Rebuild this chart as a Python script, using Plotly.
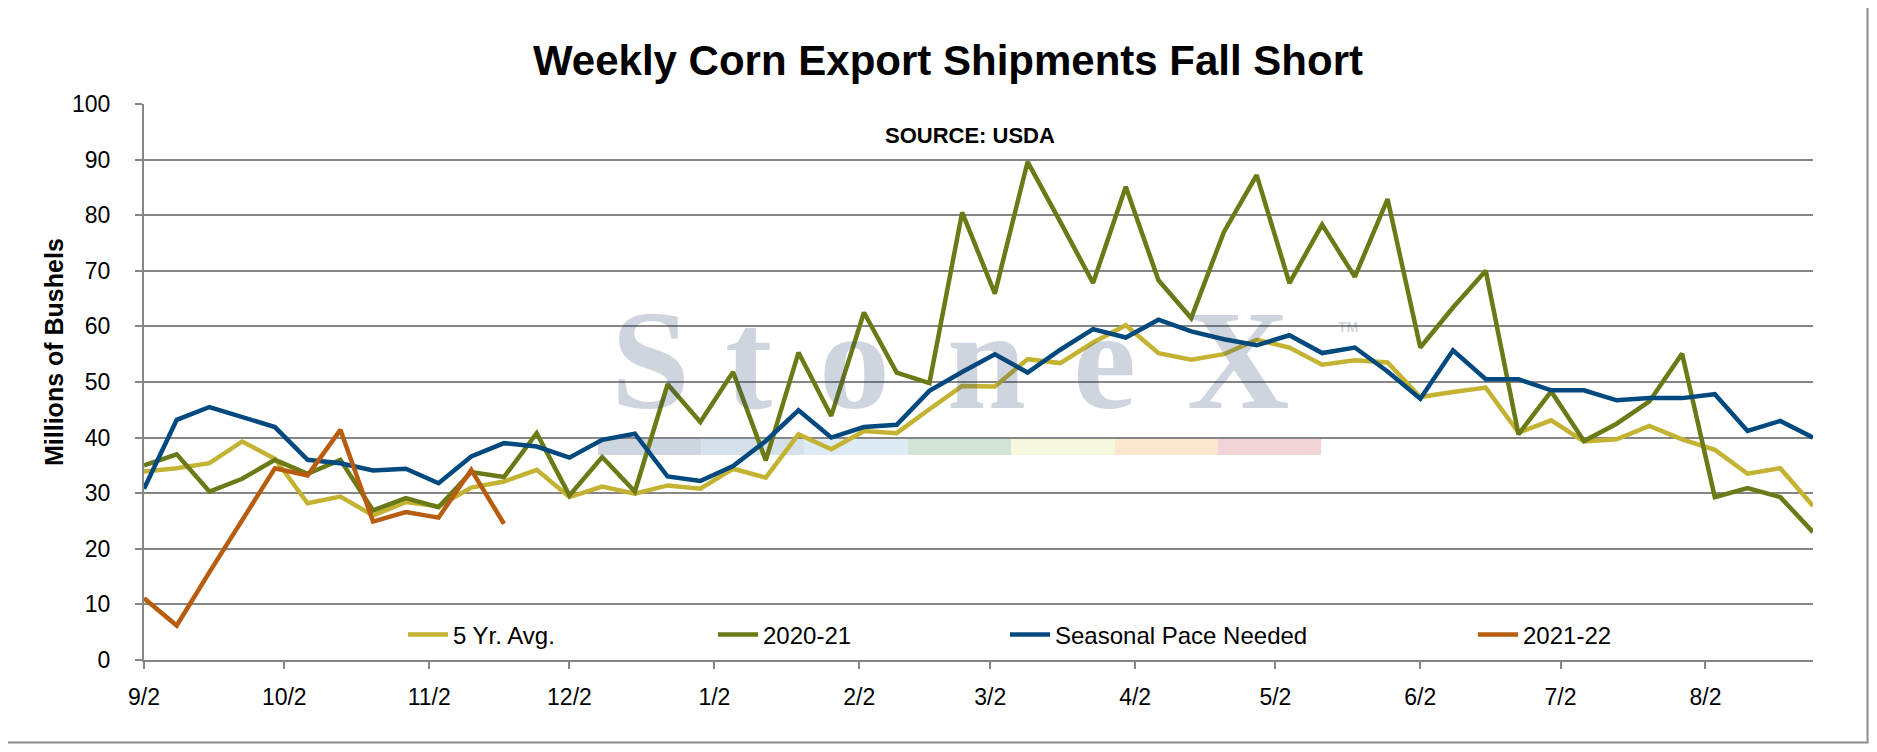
import pandas as pd
import plotly.graph_objects as go

# weekly corn export shipments, millions of bushels
weeks = pd.date_range("2020-09-02", periods=52, freq="7D")

avg_5yr = [33.9, 34.5, 35.4, 39.3, 36.2, 28.2, 29.4, 26.0, 28.4, 27.6,
           31.0, 32.1, 34.2, 29.3, 31.2, 29.9, 31.4, 30.8, 34.4, 32.8,
           40.6, 37.9, 41.2, 40.8, 45.1, 49.3, 49.2, 54.1, 53.4, 57.1,
           60.2, 55.2, 54.0, 55.0, 57.6, 56.2, 53.1, 53.9, 53.5, 47.3,
           48.2, 49.0, 40.9, 43.1, 39.3, 39.7, 42.1, 39.7, 37.8, 33.5,
           34.5, 27.7]
mkt_2020_21 = [35.0, 37.0, 30.3, 32.6, 36.0, 33.5, 36.0, 26.9, 29.1, 27.5,
               33.8, 32.9, 40.8, 29.6, 36.5, 30.3, 49.6, 42.8, 51.8, 35.9,
               55.3, 43.9, 62.5, 51.7, 49.8, 80.5, 65.9, 89.6, 78.8, 67.8,
               85.1, 68.3, 61.5, 77.0, 87.2, 67.8, 78.3, 68.9, 82.9, 56.2,
               63.4, 70.0, 40.6, 48.3, 39.4, 42.5, 46.5, 55.1, 29.3, 30.9,
               29.3, 23.0]
pace_needed = [30.8, 43.2, 45.5, 43.7, 41.9, 36.0, 35.4, 34.1, 34.4, 31.8,
               36.6, 39.0, 38.4, 36.4, 39.6, 40.7, 33.0, 32.2, 34.9, 39.4,
               44.9, 40.0, 41.9, 42.3, 48.4, 51.8, 55.0, 51.7, 55.8, 59.5,
               58.0, 61.2, 59.1, 57.7, 56.6, 58.4, 55.2, 56.2, 51.9, 47.0,
               55.7, 50.5, 50.5, 48.5, 48.5, 46.7, 47.1, 47.1, 47.8, 41.2,
               43.0, 40.0]
mkt_2021_22 = [11.1, 6.2, 15.8, 25.0, 34.5, 33.2, 41.4, 24.9, 26.6, 25.6,
               34.2, 24.5]

series = [
    ("5 Yr. Avg.", avg_5yr, "#c4b232", "legend"),
    ("2020-21", mkt_2020_21, "#6b7a17", "legend2"),
    ("Seasonal Pace Needed", pace_needed, "#00497f", "legend3"),
    ("2021-22", mkt_2021_22, "#b85c10", "legend4"),
]

# page is 1877x752 but the browser body adds an 8px margin on every side,
# so the figure is shrunk to avoid scrollbars and all positions are page px
OFF = 8
W, H = 1877 - 2 * OFF, 752 - 2 * OFF
L, R, T, B = 144 - OFF, 64 - OFF, 104 - OFF, 92 - OFF
GRID = "#868686"
FONT = "Liberation Sans, Arial, sans-serif"


def px_x(px):
    # page pixel -> paper fraction
    return (px - OFF - L) / (W - L - R)


def px_y(py):
    return (H - B - (py - OFF)) / (H - T - B)


fig = go.Figure()
for name, vals, color, leg in series:
    fig.add_trace(go.Scatter(
        x=weeks[:len(vals)], y=vals, name=name, mode="lines",
        line=dict(color=color, width=4.5), legend=leg,
    ))

# legends: one per entry so the spacing matches the original
ITEMW = 40
legend_text_left = [453, 763, 1055, 1523]
legends = {}
for i, px in enumerate(legend_text_left):
    key = "legend" if i == 0 else f"legend{i + 1}"
    legends[key] = dict(
        x=px_x(px - ITEMW - 10), y=px_y(635), xanchor="left", yanchor="middle",
        orientation="h", bgcolor="rgba(0,0,0,0)", itemwidth=ITEMW,
        font=dict(family=FONT, size=24, color="black"),
    )

# StoneX watermark (translucent so the lines show through)
wm_color = "rgba(35,65,105,0.22)"
annotations = []
for letter, cx in [("S", 650), ("t", 748), ("o", 854), ("n", 986), ("e", 1104), ("X", 1238)]:
    annotations.append(dict(
        text=f"<b>{letter}</b>", xref="paper", yref="paper", x=px_x(cx), y=px_y(360),
        xanchor="center", yanchor="middle", showarrow=False,
        font=dict(family="Liberation Serif, serif", size=142, color=wm_color),
    ))
annotations.append(dict(
    text="<b>TM</b>", xref="paper", yref="paper", x=px_x(1348), y=px_y(327),
    xanchor="center", yanchor="middle", showarrow=False,
    font=dict(family=FONT, size=14, color=wm_color),
))
annotations.append(dict(
    text="<b>SOURCE: USDA</b>", xref="paper", yref="paper",
    x=px_x(970), y=px_y(135), xanchor="center", yanchor="middle",
    showarrow=False, font=dict(family=FONT, size=22, color="black"),
))
annotations.append(dict(
    text="<b>Millions of Bushels</b>", xref="paper", yref="paper",
    x=px_x(54), y=px_y(352), xanchor="center", yanchor="middle",
    textangle=-90, showarrow=False,
    font=dict(family=FONT, size=25, color="black"),
))

shapes = []
bar_colors = ["#cdd5de", "#d6e0ea", "#deeaf4", "#d3e4d7", "#f7f7de", "#f9e7d0", "#f1d4d7"]
for i, c in enumerate(bar_colors):
    x0 = 598 + i * 103.3
    shapes.append(dict(
        type="rect", xref="paper", yref="paper", layer="below",
        x0=px_x(x0), x1=px_x(x0 + 103.3), y0=px_y(455), y1=px_y(438),
        fillcolor=c, line=dict(width=0),
    ))
# outer chart border (left/top edges fall in the page margin)
shapes.append(dict(
    type="rect", xref="paper", yref="paper",
    x0=px_x(1.5), x1=px_x(OFF + W - 1.5), y0=px_y(OFF + H - 1.5), y1=px_y(1.5),
    line=dict(color="#8c8c8c", width=2), fillcolor="rgba(0,0,0,0)",
))

fig.update_layout(
    width=W, height=H,
    margin=dict(l=L, r=R, t=T, b=B),
    paper_bgcolor="white", plot_bgcolor="white",
    font=dict(family=FONT, size=22, color="black"),
    title=dict(
        text="<b>Weekly Corn Export Shipments Fall Short</b>",
        x=(948 - OFF) / W, xref="container", xanchor="center",
        y=1 - (60 - OFF) / H, yref="container", yanchor="middle",
        font=dict(family=FONT, size=42, color="black"),
    ),
    showlegend=True,
    annotations=annotations,
    shapes=shapes,
    **legends,
)

fig.update_xaxes(
    type="date", range=[weeks[0], weeks[-1]],
    tick0="2020-09-02", dtick="M1", tickformat="%-m/%-d",
    showgrid=False, showline=True, linecolor=GRID, linewidth=2,
    ticks="outside", ticklen=7, tickwidth=2, tickcolor=GRID,
    ticklabelstandoff=8, tickfont=dict(family=FONT, size=23, color="black"),
)
fig.update_yaxes(
    range=[0, 100], dtick=10,
    showgrid=True, gridcolor=GRID, gridwidth=2,
    showline=True, linecolor=GRID, linewidth=2,
    ticks="outside", ticklen=7, tickwidth=2, tickcolor=GRID,
    ticklabelstandoff=20, tickfont=dict(family=FONT, size=23, color="black"),
    zeroline=False,
)

fig.write_html("out.html")
